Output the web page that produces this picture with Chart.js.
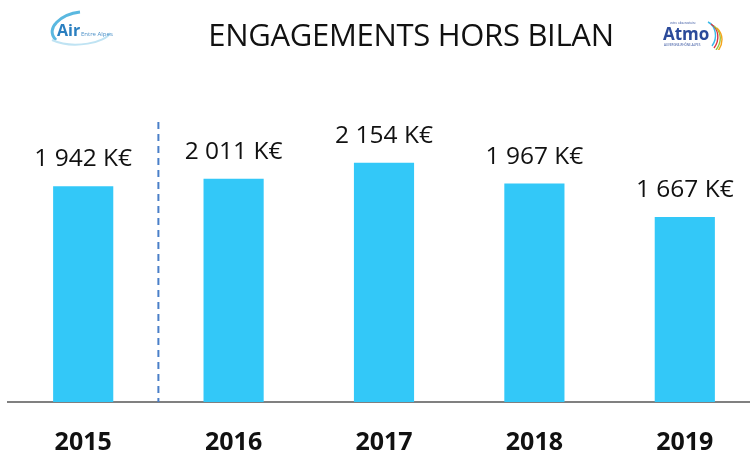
<!DOCTYPE html>
<html>
<head>
<meta charset="utf-8">
<script src="https://cdn.jsdelivr.net/npm/chart.js@4"></script>
<style>
  html, body { margin: 0; padding: 0; background: #fff; overflow: hidden; width: 750px; height: 454px; }
  #wrap { position: relative; width: 760px; height: 454px; overflow: hidden; }
  #titre { position: absolute; left: 0; width: 822px; top: 13px; text-align: center; font: 31px "Open Sans", sans-serif; color: #111; letter-spacing: -0.3px; }
  #logoAir { position: absolute; left: 44px; top: 6px; width: 72px; height: 42px; }
  #logoAtmo { position: absolute; left: 660px; top: 10px; width: 70px; height: 40px; }
  canvas { position: absolute; left: 0; top: 0; }
</style>
</head>
<body>
<div id="wrap">
  <canvas id="graphique" width="760" height="484"></canvas>
  <div id="titre">ENGAGEMENTS HORS BILAN</div>
  <svg id="logoAir" viewBox="0 0 72 42">
    <path d="M12 34 C0 22 18 8 36 6" fill="none" stroke="#5ab8e0" stroke-width="3"/>
    <path d="M8 34 C30 44 62 36 66 27" fill="none" stroke="#bfe3f3" stroke-width="2"/>
    <text x="13" y="30" font-family="Open Sans" font-weight="700" font-size="16" fill="#2a7fc0">Air</text>
    <text x="37" y="30" font-family="Open Sans" font-size="6" fill="#4a8fc7">Entre Alpes</text>
  </svg>
  <svg id="logoAtmo" viewBox="0 0 70 40">
    <text x="3" y="30" font-family="Open Sans" font-weight="700" font-size="17" fill="#2b4a9a">Atmo</text>
    <text x="10" y="14" font-family="Open Sans" font-size="3" fill="#2b4a9a">votre observatoire</text>
    <text x="4" y="36" font-family="Open Sans" font-size="3" fill="#2b4a9a">AUVERGNE-RHÔNE-ALPES</text>
    <path d="M48 12 C56 16 58 28 52 36" fill="none" stroke="#39b9e8" stroke-width="1.4"/>
    <path d="M51 14 C59 19 60 30 54 38" fill="none" stroke="#d9343f" stroke-width="1.4"/>
    <path d="M54 16 C62 22 62 32 56 40" fill="none" stroke="#9bc53d" stroke-width="1.4"/>
    <path d="M57 18 C64 25 63 34 58 41" fill="none" stroke="#f4a51c" stroke-width="1.4"/>
  </svg>
</div>
<script>
const annees = ['2015', '2016', '2017', '2018', '2019'];
const montants = [1942, 2011, 2154, 1967, 1667];
const etiquettes = ['1 942 K€', '2 011 K€', '2 154 K€', '1 967 K€', '1 667 K€'];

const pluginEtiquettes = {
  id: 'etiquettes',
  afterDatasetsDraw(chart) {
    const ctx = chart.ctx;
    const meta = chart.getDatasetMeta(0);
    ctx.save();
    ctx.font = '24.5px "Open Sans", sans-serif';
    ctx.fillStyle = '#111';
    ctx.textAlign = 'center';
    ctx.textBaseline = 'middle';
    meta.data.forEach((barre, i) => {
      ctx.fillText(etiquettes[i], barre.x, barre.y - 27);
    });

    // ligne pointillée entre 2015 et 2016
    const x = (meta.data[0].x + meta.data[1].x) / 2;
    ctx.strokeStyle = '#4a7fc8';
    ctx.lineWidth = 2;
    ctx.setLineDash([7, 5]);
    ctx.beginPath();
    ctx.moveTo(x, 122);
    ctx.lineTo(x, chart.chartArea.bottom);
    ctx.stroke();
    ctx.restore();
  }
};

new Chart(document.getElementById('graphique'), {
  type: 'bar',
  data: {
    labels: annees,
    datasets: [{
      data: montants,
      backgroundColor: '#33c8f8',
      barPercentage: 0.4,
      categoryPercentage: 1
    }]
  },
  options: {
    responsive: false,
    animation: false,
    layout: { padding: { left: 8, right: 0, top: 0, bottom: 0 } },
    plugins: { legend: { display: false }, tooltip: { enabled: false } },
    scales: {
      y: { display: false, min: 0, max: 3620 },
      x: {
        grid: { display: false, drawTicks: false },
        border: { display: true, color: '#808080', width: 2 },
        ticks: {
          color: '#111',
          padding: 26,
          font: { family: 'Open Sans', size: 25, weight: 'bold' }
        }
      }
    }
  },
  plugins: [pluginEtiquettes]
});
</script>
</body>
</html>
